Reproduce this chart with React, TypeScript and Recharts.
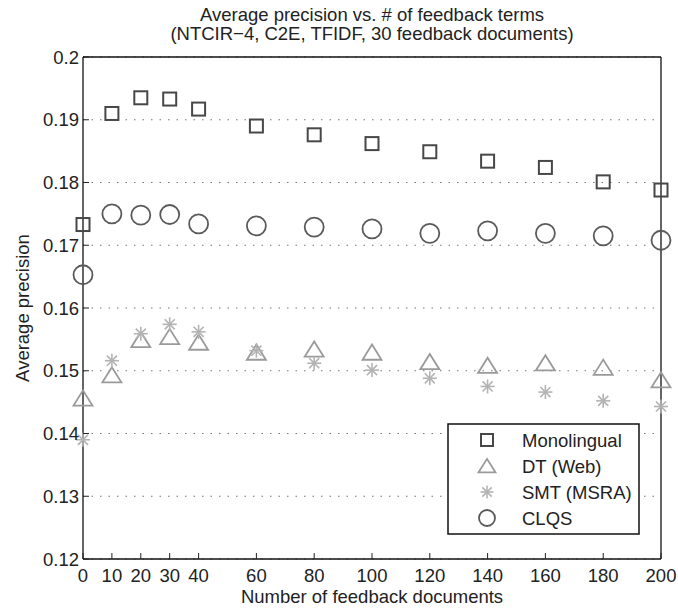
import React from "react";
import {
  ScatterChart,
  Scatter,
  XAxis,
  YAxis,
  CartesianGrid,
  Legend,
} from "recharts";

const FONT = '"Liberation Sans", Arial, Helvetica, sans-serif';
const FS = 18.5;

const feedbackDocs = [0, 10, 20, 30, 40, 60, 80, 100, 120, 140, 160, 180, 200];
const yTicks = [0.12, 0.13, 0.14, 0.15, 0.16, 0.17, 0.18, 0.19, 0.2];

const monolingual = [0.1733, 0.191, 0.1935, 0.1933, 0.1917, 0.189, 0.1876, 0.1862, 0.1849, 0.1834, 0.1824, 0.1801, 0.1788];
const dtWeb = [0.1456, 0.1493, 0.1549, 0.1554, 0.1545, 0.1529, 0.1534, 0.1529, 0.1514, 0.1508, 0.1512, 0.1505, 0.1485];
const smtMsra = [0.139, 0.1516, 0.1559, 0.1574, 0.1562, 0.1532, 0.1512, 0.1501, 0.1488, 0.1475, 0.1466, 0.1452, 0.1443];
const clqs = [0.1653, 0.175, 0.1748, 0.1749, 0.1734, 0.1731, 0.1729, 0.1726, 0.1719, 0.1723, 0.1719, 0.1715, 0.1708];

const toPoints = (vals: number[]) => feedbackDocs.map((x, i) => ({ x, y: vals[i] }));

// marker drawers
const square = (cx: number, cy: number, s = 13) => (
  <rect x={cx - s / 2} y={cy - s / 2} width={s} height={s} fill="none" stroke="#474747" strokeWidth={2} />
);
const triangle = (cx: number, cy: number, w = 19) => (
  <polygon
    points={`${cx},${cy - w * 0.42} ${cx - w / 2},${cy + w * 0.38} ${cx + w / 2},${cy + w * 0.38}`}
    fill="none"
    stroke="#9a9a9a"
    strokeWidth={1.8}
  />
);
const star = (cx: number, cy: number, r = 7) => {
  const d = r * 0.72;
  return (
    <g stroke="#b3b3b3" strokeWidth={1.6}>
      <line x1={cx} y1={cy - r} x2={cx} y2={cy + r} />
      <line x1={cx - r} y1={cy} x2={cx + r} y2={cy} />
      <line x1={cx - d} y1={cy - d} x2={cx + d} y2={cy + d} />
      <line x1={cx - d} y1={cy + d} x2={cx + d} y2={cy - d} />
    </g>
  );
};
const circle = (cx: number, cy: number, r = 9.5) => (
  <circle cx={cx} cy={cy} r={r} fill="none" stroke="#5a5a5a" strokeWidth={1.8} />
);

const SERIES = [
  { name: "Monolingual", data: monolingual, draw: square, legendSize: 12 },
  { name: "DT (Web)", data: dtWeb, draw: triangle, legendSize: 17 },
  { name: "SMT (MSRA)", data: smtMsra, draw: star, legendSize: 6.5 },
  { name: "CLQS", data: clqs, draw: circle, legendSize: 8 },
];

const fmtY = (v: number) => String(Number(v.toFixed(2)));

const BottomTick = (p: any) => (
  <g>
    <line x1={p.x} x2={p.x} y1={p.y} y2={p.y - 6} stroke="#222" />
    <text x={p.x} y={p.y + 23} textAnchor="middle" fontFamily={FONT} fontSize={FS} fill="#222">
      {p.payload.value}
    </text>
  </g>
);
const LeftTick = (p: any) => (
  <g>
    <line x1={p.x} x2={p.x + 6} y1={p.y} y2={p.y} stroke="#222" />
    <text x={p.x - 4} y={p.y} dy="0.36em" textAnchor="end" fontFamily={FONT} fontSize={FS} fill="#222">
      {fmtY(p.payload.value)}
    </text>
  </g>
);
const TopTick = (p: any) => <line x1={p.x} x2={p.x} y1={p.y} y2={p.y + 6} stroke="#222" />;
const RightTick = (p: any) => <line x1={p.x} x2={p.x - 6} y1={p.y} y2={p.y} stroke="#222" />;

const LegendBox = () => (
  <svg width={193} height={112} style={{ display: "block" }}>
    <rect x={1} y={1} width={191} height={110} fill="#fff" stroke="#111" strokeWidth={1.5} />
    {SERIES.map((s, i) => {
      const cy = 17 + i * 26;
      return (
        <g key={s.name}>
          {s.draw(40, cy, s.legendSize)}
          <text x={75} y={cy} dy="0.36em" fontFamily={FONT} fontSize={FS} fill="#222">
            {s.name}
          </text>
        </g>
      );
    })}
  </svg>
);

export default function App() {
  return (
    <div style={{ position: "absolute", left: 0, top: 0, width: 678, height: 610, background: "#fff" }}>
      <ScatterChart width={678} height={610} margin={{ top: 56, right: 16, left: 23, bottom: 21 }}>
        <CartesianGrid vertical={false} stroke="#777" strokeDasharray="1.5 7" />
        <XAxis
          type="number"
          dataKey="x"
          domain={[0, 200]}
          ticks={feedbackDocs}
          interval={0}
          height={30}
          tickSize={0}
          tickMargin={0}
          tickLine={false}
          tick={BottomTick}
          axisLine={{ stroke: "#111", strokeWidth: 1.3 }}
        />
        <XAxis
          xAxisId="top"
          orientation="top"
          type="number"
          domain={[0, 200]}
          ticks={feedbackDocs}
          interval={0}
          height={1}
          tickSize={0}
          tickMargin={0}
          tickLine={false}
          tick={TopTick}
          axisLine={{ stroke: "#111", strokeWidth: 1.3 }}
        />
        <YAxis
          type="number"
          dataKey="y"
          domain={[0.12, 0.2]}
          ticks={yTicks}
          interval={0}
          width={60}
          tickSize={0}
          tickMargin={0}
          tickLine={false}
          tick={LeftTick}
          axisLine={{ stroke: "#111", strokeWidth: 1.3 }}
        />
        <YAxis
          yAxisId="right"
          orientation="right"
          type="number"
          domain={[0.12, 0.2]}
          ticks={yTicks}
          interval={0}
          width={1}
          tickSize={0}
          tickMargin={0}
          tickLine={false}
          tick={RightTick}
          axisLine={{ stroke: "#111", strokeWidth: 1.3 }}
        />
        {SERIES.map((s) => (
          <Scatter
            key={s.name}
            name={s.name}
            data={toPoints(s.data)}
            isAnimationActive={false}
            shape={(p: any) => s.draw(p.cx, p.cy)}
          />
        ))}
        <Legend
          layout="vertical"
          align="center"
          verticalAlign="middle"
          content={() => <LegendBox />}
          wrapperStyle={{ position: "absolute", left: 447, top: 423, width: 193, height: 112 }}
        />
        <text x={372} y={21} textAnchor="middle" fontFamily={FONT} fontSize={FS} fill="#222">
          Average precision vs. # of feedback terms
        </text>
        <text x={372} y={40} textAnchor="middle" fontFamily={FONT} fontSize={FS} fill="#222">
          (NTCIR−4, C2E, TFIDF, 30 feedback documents)
        </text>
        <text x={372} y={603} textAnchor="middle" fontFamily={FONT} fontSize={FS} fill="#222">
          Number of feedback documents
        </text>
        <text
          x={22}
          y={308}
          textAnchor="middle"
          dy="0.36em"
          transform="rotate(-90 22 308)"
          fontFamily={FONT}
          fontSize={FS}
          fill="#222"
        >
          Average precision
        </text>
      </ScatterChart>
    </div>
  );
}
